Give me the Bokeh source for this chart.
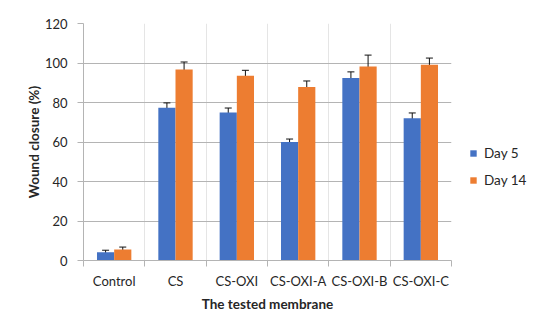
from bokeh.plotting import figure
from bokeh.models import (ColumnDataSource, Range1d, LinearAxis,
                          FixedTicker, Whisker, Legend, LegendItem, TeeHead)
from bokeh.transform import dodge
from bokeh.embed import file_html
from bokeh.resources import INLINE

categories = ["Control", "CS", "CS-OXI", "CS-OXI-A", "CS-OXI-B", "CS-OXI-C"]
day5 = [4.2, 77.3, 74.9, 60.0, 92.4, 72.0]
day5_err = [1.0, 2.5, 2.3, 1.5, 3.1, 2.7]
day14 = [5.6, 96.7, 93.5, 87.8, 98.2, 99.1]
day14_err = [1.2, 3.8, 2.8, 3.1, 5.8, 3.4]
y_ticks = [0, 20, 40, 60, 80, 100, 120]
series_names = ["Day 5", "Day 14"]

FONT = "Lato"
TXT = "#262626"
GRAY = "#b4b4b4"
BLUE = "#4472C4"
ORANGE = "#ED7D31"

n = len(categories)
centers = [i + 0.5 for i in range(n)]
bounds = list(range(n + 1))

src = ColumnDataSource(dict(
    xc=centers,
    d5=day5, d5_up=[v + e for v, e in zip(day5, day5_err)], d5_lo=[v - e for v, e in zip(day5, day5_err)],
    d14=day14, d14_up=[v + e for v, e in zip(day14, day14_err)], d14_lo=[v - e for v, e in zip(day14, day14_err)],
))

p = figure(x_range=Range1d(0, n), y_range=Range1d(0, y_ticks[-1]),
           frame_width=368, frame_height=237, output_backend="svg", toolbar_location=None,
           x_axis_location=None, y_axis_location="left",
           min_border_left=83, min_border_right=97, min_border_top=23, min_border_bottom=74)
p.outline_line_color = None

W = 0.28
OFF = 0.14
r5 = p.vbar(x=dodge("xc", -OFF), top="d5", width=W, source=src, fill_color=BLUE, line_color=None)
r14 = p.vbar(x=dodge("xc", OFF), top="d14", width=W, source=src, fill_color=ORANGE, line_color=None)

for off, up, lo in [(-OFF, "d5_up", "d5_lo"), (OFF, "d14_up", "d14_lo")]:
    w = Whisker(base=dodge("xc", off), upper=up, lower=lo, source=src,
                line_color="#111111", line_width=1,
                upper_head=TeeHead(size=7, line_color="#111111", line_width=1),
                lower_head=TeeHead(size=7, line_color="#111111", line_width=1))
    p.add_layout(w)

# y axis
ya = p.yaxis[0]
ya.ticker = FixedTicker(ticks=y_ticks)
ya.axis_line_color = GRAY
ya.major_tick_line_color = GRAY
ya.major_tick_out = 6
ya.major_tick_in = 0
ya.minor_tick_line_color = None
ya.major_label_text_font = FONT
ya.major_label_text_font_size = "13px"
ya.major_label_text_color = TXT
ya.major_label_standoff = 10
ya.axis_label = "Wound closure (%)"
ya.axis_label_text_font = FONT
ya.axis_label_text_font_style = "bold"
ya.axis_label_text_font_size = "13.5px"
ya.axis_label_text_color = TXT
ya.axis_label_standoff = 0

p.ygrid.grid_line_color = GRAY
p.ygrid.ticker = FixedTicker(ticks=y_ticks)

# x boundary tick axis (ticks only)
bx = LinearAxis(ticker=FixedTicker(ticks=bounds),
                major_label_overrides={b: " " for b in bounds})
bx.axis_line_color = GRAY
bx.major_tick_line_color = GRAY
bx.major_tick_out = 6
bx.major_tick_in = 0
bx.minor_tick_line_color = None
bx.major_label_text_font_size = "1px"
bx.major_label_standoff = 0
p.add_layout(bx, "below")

# category label axis
cx = LinearAxis(ticker=FixedTicker(ticks=centers),
                major_label_overrides={c: name for c, name in zip(centers, categories)})
cx.axis_line_color = None
cx.major_tick_line_color = None
cx.major_tick_out = 0
cx.major_tick_in = 0
cx.minor_tick_line_color = None
cx.major_label_text_font = FONT
cx.major_label_text_font_size = "13px"
cx.major_label_text_color = TXT
cx.major_label_standoff = 2
cx.axis_label = "The tested membrane"
cx.axis_label_text_font = FONT
cx.axis_label_text_font_style = "bold"
cx.axis_label_text_font_size = "13.5px"
cx.axis_label_text_color = TXT
cx.axis_label_standoff = 4
p.add_layout(cx, "below")

legend = Legend(items=[LegendItem(label=series_names[0], renderers=[r5]),
                       LegendItem(label=series_names[1], renderers=[r14])],
                location=(18, 70), orientation="vertical")
legend.border_line_color = None
legend.background_fill_alpha = 0
legend.margin = 0
legend.padding = 8
legend.glyph_width = 8
legend.glyph_height = 8
legend.label_height = 20
legend.spacing = 7
legend.label_standoff = 7
legend.label_text_font = FONT
legend.label_text_font_size = "13.5px"
legend.label_text_color = TXT
p.add_layout(legend, "right")

p.styles = {"outline": "2px solid #c4c4c4", "outline-offset": "-6px"}

open("out.html", "w").write(file_html(p, INLINE))
